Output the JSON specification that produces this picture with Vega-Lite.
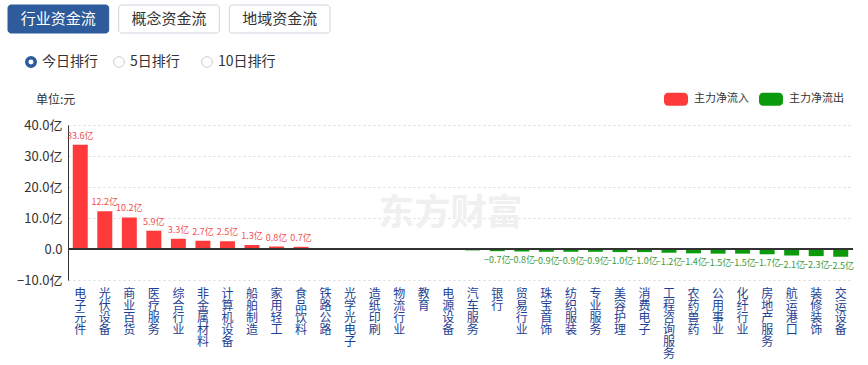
{
  "$schema": "https://vega.github.io/schema/vega-lite/v6.json",
  "padding": {"left": 5, "top": 4, "right": 5, "bottom": 0},
  "background": "#ffffff",
  "config": {
    "font": "Noto Sans CJK SC",
    "view": {"stroke": null}
  },
  "columns": 1,
  "align": "none",
  "spacing": 16,
  "concat": [
    {
      "width": 262,
      "height": 28,
      "data": {"values": [
        {"btn": "行业资金流", "active": true},
        {"btn": "概念资金流", "active": false},
        {"btn": "地域资金流", "active": false}
      ]},
      "encoding": {
        "x": {"field": "btn", "type": "nominal", "sort": null,
              "scale": {"range": [-60, 262], "paddingInner": 0.09, "paddingOuter": 0}, "axis": null}
      },
      "layer": [
        {
          "mark": {"type": "rect", "cornerRadius": 3, "strokeWidth": 1},
          "encoding": {
            "fill": {"condition": {"test": "datum.active", "value": "#2d5b9b"}, "value": "#ffffff"},
            "stroke": {"condition": {"test": "datum.active", "value": "#2d5b9b"}, "value": "#cfd6df"}
          }
        },
        {
          "mark": {"type": "text", "fontSize": 15},
          "encoding": {
            "text": {"field": "btn"},
            "color": {"condition": {"test": "datum.active", "value": "#ffffff"}, "value": "#333333"}
          }
        }
      ]
    },
    {
      "width": 200,
      "height": 20,
      "data": {"values": [
        {"opt": "今日排行", "active": true},
        {"opt": "5日排行", "active": false},
        {"opt": "10日排行", "active": false}
      ]},
      "encoding": {
        "x": {"field": "opt", "type": "nominal", "sort": null,
              "scale": {"type": "point", "range": [-37, 139], "padding": 0}, "axis": null}
      },
      "layer": [
        {
          "mark": {"type": "point", "filled": false, "opacity": 1},
          "encoding": {
            "size": {"condition": {"test": "datum.active", "value": 72}, "value": 113},
            "strokeWidth": {"condition": {"test": "datum.active", "value": 3.5}, "value": 1},
            "stroke": {"condition": {"test": "datum.active", "value": "#2d5b9b"}, "value": "#cccccc"}
          }
        },
        {
          "mark": {"type": "text", "align": "left", "dx": 11, "fontSize": 14, "color": "#333333"},
          "encoding": {"text": {"field": "opt"}}
        }
      ]
    },
    {
      "width": 785,
      "height": 155,
      "title": {"text": ["", "单位:元"], "lineHeight": 4, "anchor": "start", "frame": "group", "fontSize": 12,
                "fontWeight": "normal", "color": "#333333", "dx": -32, "offset": 12},
      "data": {"values": [
        {"name": "电子元件", "value": 33.6, "type": "主力净流入"},
        {"name": "光伏设备", "value": 12.2, "type": "主力净流入"},
        {"name": "商业百货", "value": 10.2, "type": "主力净流入"},
        {"name": "医疗服务", "value": 5.9, "type": "主力净流入"},
        {"name": "综合行业", "value": 3.3, "type": "主力净流入"},
        {"name": "非金属材料", "value": 2.7, "type": "主力净流入"},
        {"name": "计算机设备", "value": 2.5, "type": "主力净流入"},
        {"name": "船舶制造", "value": 1.3, "type": "主力净流入"},
        {"name": "家用轻工", "value": 0.8, "type": "主力净流入"},
        {"name": "食品饮料", "value": 0.7, "type": "主力净流入"},
        {"name": "铁路公路", "value": 0.2, "type": "主力净流入"},
        {"name": "光学光电子", "value": 0.05, "type": "主力净流入"},
        {"name": "造纸印刷", "value": 0.03, "type": "主力净流入"},
        {"name": "物流行业", "value": -0.1, "type": "主力净流出"},
        {"name": "教育", "value": -0.15, "type": "主力净流出"},
        {"name": "电源设备", "value": -0.3, "type": "主力净流出"},
        {"name": "汽车服务", "value": -0.45, "type": "主力净流出"},
        {"name": "银行", "value": -0.7, "type": "主力净流出"},
        {"name": "贸易行业", "value": -0.8, "type": "主力净流出"},
        {"name": "珠宝首饰", "value": -0.9, "type": "主力净流出"},
        {"name": "纺织服装", "value": -0.9, "type": "主力净流出"},
        {"name": "专业服务", "value": -0.9, "type": "主力净流出"},
        {"name": "美容护理", "value": -1.0, "type": "主力净流出"},
        {"name": "消费电子", "value": -1.0, "type": "主力净流出"},
        {"name": "工程咨询服务", "value": -1.2, "type": "主力净流出"},
        {"name": "农药兽药", "value": -1.4, "type": "主力净流出"},
        {"name": "公用事业", "value": -1.5, "type": "主力净流出"},
        {"name": "化纤行业", "value": -1.5, "type": "主力净流出"},
        {"name": "房地产服务", "value": -1.7, "type": "主力净流出"},
        {"name": "航运港口", "value": -2.1, "type": "主力净流出"},
        {"name": "装修装饰", "value": -2.3, "type": "主力净流出"},
        {"name": "交运设备", "value": -2.5, "type": "主力净流出"}
      ]},
      "encoding": {
        "x": {"field": "name", "type": "nominal", "sort": null,
              "scale": {"paddingInner": 0.39, "paddingOuter": 0.195},
              "axis": {"title": null, "labelAngle": 0, "labelExpr": "split(datum.label, '')",
                       "labelFontSize": 12, "labelLineHeight": 12, "labelColor": "#1d3f94",
                       "labelBaseline": "top", "labelPadding": 8, "domain": false, "ticks": false,
                       "labelAlign": "center"}},
        "y": {"field": "value", "type": "quantitative",
              "scale": {"domain": [-10, 40], "nice": false},
              "axis": {"title": null, "values": [-10, 0, 10, 20, 30, 40],
                       "labelExpr": "datum.value == 0 ? '0.0' : format(datum.value, '.1f') + '亿'",
                       "ticks": false, "labelPadding": 6, "labelFontSize": 13, "labelColor": "#333333",
                       "domainColor": "#333333", "gridDash": [2, 3], "gridColor": "#d9d9d9",
                       "minExtent": 63, "maxExtent": 63}}
      },
      "layer": [
        {
          "data": {"values": [{"w": "东方财富"}]},
          "mark": {"type": "text", "fontWeight": "bold", "color": "#f0f0f0", "dx": -10, "dy": 11},
          "encoding": {"x": null, "y": null, "text": {"field": "w"}, "size": {"value": 36}}
        },
        {
          "mark": {"type": "bar"},
          "encoding": {
            "color": {"field": "type", "type": "nominal",
                      "scale": {"domain": ["主力净流入", "主力净流出"], "range": ["#ff3a3a", "#0b9a0b"]},
                      "legend": {"orient": "none", "legendX": 596, "legendY": 82, "direction": "horizontal",
                                 "title": null,
                                 "symbolType": "M-0.67,-0.54 L0.67,-0.54 A0.33,0.33 0 0 1 1,-0.21 L1,0.21 A0.33,0.33 0 0 1 0.67,0.54 L-0.67,0.54 A0.33,0.33 0 0 1 -1,0.21 L-1,-0.21 A0.33,0.33 0 0 1 -0.67,-0.54 Z",
                                 "symbolSize": 576, "symbolOpacity": 1, "symbolStrokeWidth": 0,
                                 "labelFontSize": 11, "labelColor": "#333333", "columnPadding": 10,
                                 "labelOffset": 6}}
          }
        },
        {
          "transform": [{"filter": "datum.value >= 0.6"},
                        {"calculate": "format(datum.value, '.1f') + '亿'", "as": "label"}],
          "mark": {"type": "text", "baseline": "bottom", "dy": -4, "fontSize": 9, "color": "#f05050"},
          "encoding": {"text": {"field": "label"}}
        },
        {
          "transform": [{"filter": "datum.value <= -0.6"},
                        {"calculate": "format(datum.value, '.1f') + '亿'", "as": "label"}],
          "mark": {"type": "text", "baseline": "top", "dy": 5, "fontSize": 9, "color": "#3a9a3a"},
          "encoding": {"text": {"field": "label"}}
        },
        {
          "mark": {"type": "rule", "color": "#333333", "strokeWidth": 1},
          "encoding": {"x": null, "y": {"datum": 0}}
        }
      ]
    }
  ]
}
